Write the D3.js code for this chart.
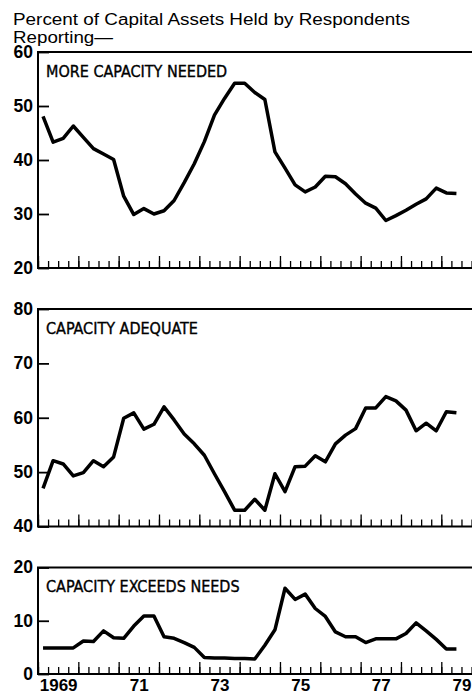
<!DOCTYPE html>
<html>
<head>
<meta charset="utf-8">
<script src="https://cdn.jsdelivr.net/npm/d3@7"></script>
<style>
  body { margin: 0; background: #fff; }
  svg { display: block; }
  text { fill: #000; }
</style>
</head>
<body>
<svg id="chart"></svg>
<script>
// quarterly readings, 1969 Q1 .. 1979 Q2
const moreNeeded = [48.1, 43.3, 44.0, 46.3, 44.2, 42.1, 41.1, 40.1, 33.3, 29.9, 31.0, 30.0,
    30.6, 32.5, 35.8, 39.3, 43.4, 48.3, 51.4, 54.2, 54.2, 52.5, 51.2, 41.5, 38.5, 35.4,
    34.1, 35.0, 37.0, 36.9, 35.6, 33.7, 32.0, 31.1, 28.8, 29.7, 30.7, 31.8, 32.8, 34.8,
    33.9, 33.8];
const adequate = [47.0, 52.1, 51.5, 49.3, 49.9, 52.1, 51.0, 52.8, 59.9, 60.9, 57.9, 58.8,
    62.0, 59.6, 57.0, 55.2, 53.1, 49.7, 46.4, 43.0, 43.0, 45.0, 43.0, 49.7, 46.4, 51.0,
    51.1, 53.0, 51.9, 55.2, 56.8, 58.0, 61.8, 61.8, 63.9, 63.1, 61.4, 57.6, 59.0, 57.6,
    61.1, 60.9];
const exceeds = [4.9, 4.9, 4.9, 4.9, 6.2, 6.1, 8.1, 6.8, 6.7, 9.0, 10.9, 10.9,
    7.0, 6.7, 5.9, 5.0, 3.1, 3.0, 3.0, 2.9, 2.9, 2.8, 5.4, 8.3, 16.1, 14.0,
    15.0, 12.3, 10.8, 7.9, 7.0, 7.0, 5.9, 6.6, 6.6, 6.6, 7.6, 9.6, 8.1, 6.5,
    4.7, 4.7];

const panelTitles = ["MORE CAPACITY NEEDED", "CAPACITY ADEQUATE", "CAPACITY EXCEEDS NEEDS"];
const panelDomains = [[20, 60], [40, 80], [0, 20]];
const panelTicks = [[20, 30, 40, 50, 60], [40, 50, 60, 70, 80], [0, 10, 20]];
const yearLabelValues = [1969, 1971, 1973, 1975, 1977, 1979];
const yearLabels = ["1969", "71", "73", "75", "77", "79"];
const titleLines = ["Percent of Capital Assets Held by Respondents", "Reporting\u2014"];

const width = 472, height = 696;
const left = 38;
const panels = [
    { top: 52, bottom: 268, values: moreNeeded },
    { top: 309, bottom: 526.5, values: adequate },
    { top: 567.5, bottom: 674, values: exceeds }
];

const svg = d3.select("#chart").attr("width", width).attr("height", height);

const x = d3.scaleLinear().domain([1969, 1980]).range([left, left + 11 * 40.33]);
const quarterTime = i => 1969 + (i + 0.5) / 4;

const font = "'Liberation Sans', Arial, Helvetica, sans-serif";

// two-line heading
svg.append("text")
    .style("font-family", font)
    .style("font-size", "16px")
    .selectAll("tspan")
    .data(titleLines)
    .join("tspan")
    .attr("x", 13)
    .attr("y", (d, i) => 24.5 + i * 18)
    .attr("textLength", (d, i) => i === 0 ? 397 : 100)
    .attr("lengthAdjust", "spacingAndGlyphs")
    .text(d => d);

panels.forEach((p, k) => {
    const y = d3.scaleLinear().domain(panelDomains[k]).range([p.bottom, p.top]);
    const g = svg.append("g");

    // y axis, ticks point inward
    g.append("g")
        .attr("transform", `translate(${left},0)`)
        .call(d3.axisLeft(y).tickValues(panelTicks[k]).tickSize(-11).tickPadding(5).tickFormat(d3.format("d")))
        .call(a => a.select(".domain").remove())
        .call(a => a.selectAll("line").attr("stroke-width", 1.8))
        .call(a => a.selectAll("text")
            .attr("dy", "0.3em")
            .style("font-family", font)
            .style("font-size", "17.5px")
            .style("font-weight", "bold"));

    // quarter ticks along the bottom
    g.append("g")
        .attr("transform", `translate(0,${p.bottom})`)
        .call(d3.axisBottom(x).tickValues(d3.range(0, 44).map(i => 1969 + i / 4)).tickSize(-7).tickFormat(""))
        .call(a => a.select(".domain").remove())
        .call(a => a.selectAll("line").attr("stroke-width", 1.3));

    g.append("g")
        .attr("transform", `translate(0,${p.bottom})`)
        .call(d3.axisBottom(x).tickValues(d3.range(1969, 1981)).tickSize(-12).tickFormat(""))
        .call(a => a.select(".domain").remove())
        .call(a => a.selectAll("line").attr("stroke-width", 1.3));

    // frame: top, left, bottom
    g.append("path")
        .attr("d", `M${width + 10},${p.top}H${left}V${p.bottom}H${width + 10}`)
        .attr("fill", "none")
        .attr("stroke", "#000")
        .attr("stroke-width", 2);

    g.append("text")
        .attr("x", 46)
        .attr("y", p.top + 24.5)
        .attr("stroke", "#000")
        .attr("stroke-width", 0.35)
        .style("font-family", "'Liberation Sans Narrow', 'DejaVu Sans Condensed', sans-serif")
        .style("font-size", "16px")
        .text(panelTitles[k]);

    g.append("path")
        .datum(p.values)
        .attr("fill", "none")
        .attr("stroke", "#000")
        .attr("stroke-width", 3.5)
        .attr("stroke-linejoin", "round")
        .attr("d", d3.line().x((d, i) => x(quarterTime(i))).y(d => y(d)));

    if (k === panels.length - 1) {
        g.append("g")
            .attr("transform", `translate(0,${p.bottom})`)
            .call(d3.axisBottom(x).tickValues(yearLabelValues.map(v => v + 0.5)).tickSize(0).tickPadding(5)
                .tickFormat((d, i) => yearLabels[i]))
            .call(a => a.select(".domain").remove())
            .call(a => a.selectAll("text")
                .style("font-family", font)
                .style("font-size", "17px")
                .style("font-weight", "bold"));
    }
});
</script>
</body>
</html>
